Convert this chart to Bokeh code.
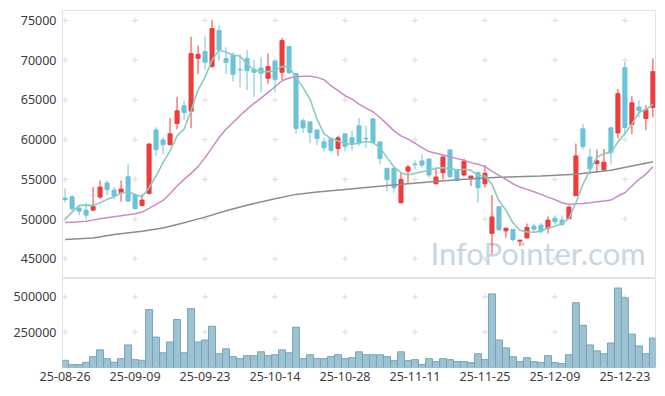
from bokeh.plotting import figure
from bokeh.layouts import column
from bokeh.models import Range1d, FixedTicker, Label
from bokeh.embed import file_html
from bokeh.resources import INLINE

# ---------------- data ----------------
tick_idx = [0, 10, 20, 30, 40, 50, 60, 70, 80]
tick_labels = ["25-08-26", "25-09-09", "25-09-23", "25-10-14", "25-10-28",
               "25-11-11", "25-11-25", "25-12-09", "25-12-23"]

open_ = [52650, 52800, 51400, 51130, 51130, 52770, 54540, 53650, 53320, 55340,
         53020, 51720, 53230, 61230, 59970, 59380, 62030, 64270, 63590, 70240,
         71080, 69230, 73740, 70200, 70620, 68850, 70200, 68850, 69020, 67720,
         69860, 68480, 71720, 68310, 62370, 62240, 61230, 59720, 60180, 58880,
         60730, 60230, 61740, 60180, 62620, 59720, 56390, 56390, 52060, 56050,
         56940, 57320, 57570, 54450, 55840, 58710, 56220, 55550, 55090, 55880,
         54450, 48200, 51560, 48520, 48690, 47220, 47640, 49110, 49230, 48860,
         50080, 49870, 50040, 52940, 61360, 57820, 56990, 56190, 61490, 60850,
         69060, 61910, 64100, 62670, 64060]
high = [53850, 53000, 51600, 52050, 54030, 54870, 54870, 54030, 54870, 56900,
        53150, 53110, 59460, 61570, 60310, 62750, 65400, 64900, 72940, 71840,
        73020, 75080, 74370, 71630, 71000, 70790, 71300, 70030, 70370, 70870,
        70030, 72810, 71720, 68310, 62660, 62240, 61230, 60270, 60180, 60480,
        60730, 61110, 62710, 61740, 62620, 59720, 56390, 56390, 55840, 56810,
        57400, 58160, 57570, 56480, 57950, 58710, 56220, 57610, 55420, 55880,
        56810, 53030, 51600, 48860, 48690, 47390, 49440, 49440, 49490, 50330,
        50460, 50460, 51720, 59510, 61950, 58920, 58750, 58830, 61490, 66370,
        69740, 65490, 64980, 64350, 70240]
low = [52050, 51000, 50500, 49950, 51000, 52560, 53020, 52480, 52180, 52140,
       51220, 51590, 53110, 57910, 58160, 59250, 61320, 62450, 61440, 68260,
       68770, 69020, 69950, 68260, 67340, 66580, 66240, 65400, 65990, 67040,
       65950, 67510, 68260, 60770, 60850, 59550, 59300, 58500, 58370, 57950,
       58540, 58670, 59210, 59000, 59500, 56900, 53530, 53320, 51970, 54450,
       56270, 56480, 55210, 54370, 55000, 55210, 54790, 55340, 54160, 52060,
       53950, 45570, 48500, 47640, 47130, 46580, 47510, 48390, 48180, 48180,
       49280, 49150, 50040, 52940, 58790, 55630, 55810, 56050, 56900, 60180,
       60480, 60690, 62790, 61190, 62790]
close = [52450, 51300, 51000, 50500, 51600, 54030, 53700, 52900, 53780, 52270,
         51300, 52390, 59460, 58750, 59380, 60730, 63630, 63420, 70830, 70750,
         69740, 73990, 71300, 69740, 68220, 68770, 68690, 68480, 68350, 69190,
         67590, 72470, 68430, 61400, 61490, 60900, 60140, 59000, 58670, 60230,
         59170, 59420, 59630, 60100, 59630, 57610, 54960, 53950, 55000, 56560,
         56850, 56810, 55550, 55300, 57820, 55340, 54880, 57270, 55420, 53950,
         55760, 50270, 48650, 48860, 47430, 47350, 48940, 48730, 48480, 49870,
         49660, 49320, 51510, 57950, 59130, 56350, 57330, 57160, 58370, 65780,
         61530, 64640, 63670, 63760, 68560]
volume = [51000, 20800, 20800, 37000, 76400, 125000, 62500, 37000, 62500, 159700,
          55600, 51000, 409800, 215300, 104200, 180600, 340300, 104200, 416700, 180600,
          194500, 291700, 97200, 132000, 76400, 62500, 83300, 83300, 111100, 83300,
          90300, 125000, 104200, 284700, 62500, 90300, 62500, 62500, 77000, 90300,
          62500, 69500, 111100, 90300, 90300, 90300, 76400, 48600, 111100, 48600,
          55600, 20800, 62500, 41700, 62500, 55600, 41700, 41700, 34700, 97200,
          55600, 520900, 194500, 138900, 76400, 41700, 69500, 41700, 34700, 83300,
          34700, 27800, 90300, 458400, 298600, 159700, 118100, 97200, 173600, 562500,
          493100, 236100, 152800, 97200, 208400]
ma_short = [49990, 50880, 51720, 51760, 51720, 52050, 52480, 52810, 53280, 53400,
            53110, 52810, 53950, 55420, 57110, 58580, 60480, 61320, 63630, 66240,
            67900, 70000, 71300, 71000, 70660, 70500, 69530, 68770, 68560, 68560,
            68690, 69230, 69190, 67840, 66580, 65110, 62580, 60770, 60140, 59840,
            59500, 59420, 59550, 59760, 59630, 59000, 57740, 56560, 55840, 55550,
            55760, 55970, 56140, 56390, 56480, 56350, 56180, 56270, 56140, 55510,
            55420, 54370, 52300, 51100, 49530, 48600, 48390, 48350, 48480, 48900,
            49110, 49450, 50080, 52060, 54370, 56180, 57740, 58290, 58370, 59720,
            60770, 61950, 63420, 63760, 64480]
ma_mid = [49560, 49610, 49660, 49740, 49870, 50040, 50160, 50290, 50420, 50540,
          50670, 50880, 51340, 51850, 52350, 53190, 54160, 55000, 55760, 56600,
          57740, 59000, 60270, 61320, 62160, 63000, 63840, 64560, 65230, 65950,
          66660, 67420, 67760, 67930, 67970, 67970, 67840, 67550, 66790, 66160,
          65530, 65100, 64480, 63970, 63510, 62790, 61950, 61110, 60480, 60060,
          59550, 59000, 58500, 58290, 58080, 57870, 57610, 57400, 57110, 56900,
          56600, 56050, 55510, 55000, 54450, 54030, 53740, 53450, 53110, 52770,
          52440, 52060, 51850, 51930, 51970, 52060, 52180, 52270, 52390, 52900,
          53320, 54160, 55000, 55630, 56600]
ma_long_idx = [0, 4, 7, 11, 14, 17, 20, 23, 26, 30, 33, 36, 40, 46, 52, 57, 62, 68, 73, 78, 84]
ma_long = [47420, 47630, 48050, 48470, 48890, 49530, 50250, 51050, 51750, 52560,
           53110, 53400, 53740, 54240, 54660, 55000, 55270, 55420, 55630, 56140, 57230]

price_ticks = [45000, 50000, 55000, 60000, 65000, 70000, 75000]
vol_ticks = [250000, 500000]

# ---------------- styling ----------------
RED = "#ee3b3b"
BLUE = "#6bc2d9"
FONT = "Noto Sans"
LBL = "12.5px"
LBL_COLOR = "#3c3c3c"
OUTLINE = "#e3e3e3"
CROSS = "#dcdcdc"

n = len(close)
idx = list(range(n))
up = [c >= o for o, c in zip(open_, close)]
colors = [RED if u else BLUE for u in up]
body_top = [max(o, c) for o, c in zip(open_, close)]
body_bot = [min(o, c) for o, c in zip(open_, close)]

xr = Range1d(-0.37, 84.37)


def style_yaxis(ax, ticks):
    ax.ticker = FixedTicker(ticks=ticks)
    ax.axis_line_color = None
    ax.major_tick_line_color = None
    ax.minor_tick_line_color = None
    ax.major_tick_out = 0
    ax.major_tick_in = 0
    ax.minor_tick_out = 0
    ax.major_label_standoff = 6
    ax.major_label_text_font = FONT
    ax.major_label_text_font_size = LBL
    ax.major_label_text_color = LBL_COLOR


# ---------------- price panel ----------------
p = figure(width=665, height=278, x_range=xr, y_range=Range1d(42520, 76260),
           output_backend="svg", toolbar_location=None, x_axis_location=None,
           min_border_left=62, min_border_right=10, min_border_top=10, min_border_bottom=0)
p.xgrid.visible = False
p.ygrid.visible = False
p.outline_line_color = OUTLINE
p.background_fill_color = "white"
p.border_fill_color = "white"
style_yaxis(p.yaxis[0], price_ticks)

# grid crosses
cx = [x for x in tick_idx for _ in price_ticks]
cy = [y for _ in tick_idx for y in price_ticks]
p.scatter(x=cx, y=cy, marker="cross", size=6, line_color=CROSS, line_width=1)

# watermark
wm = Label(x=368, y=26, x_units="screen", y_units="screen", text="InfoPointer.com",
           text_font="Lato", text_font_size="31px", text_color="#c6d7e3",
           text_baseline="alphabetic", text_align="left", level="underlay")
p.add_layout(wm)

# candles
p.segment(x0=idx, y0=low, x1=idx, y1=high, line_color=colors, line_width=1)
p.vbar(x=idx, width=0.58, top=body_top, bottom=body_bot,
       fill_color=colors, line_color=colors, line_width=1)

# moving averages
p.line(ma_long_idx, ma_long, line_color="#8c8c8c", line_width=1.5)
p.line(idx, ma_mid, line_color="#c98bc8", line_width=1.5)
p.line(idx, ma_short, line_color="#88ccc0", line_width=1.6)

# ---------------- volume panel ----------------
v = figure(width=665, height=111, x_range=xr, y_range=Range1d(0, 630000),
           output_backend="svg", toolbar_location=None,
           min_border_left=62, min_border_right=10, min_border_top=0, min_border_bottom=22)
v.xgrid.visible = False
v.ygrid.visible = False
v.outline_line_color = OUTLINE
v.background_fill_color = "white"
v.border_fill_color = "white"
style_yaxis(v.yaxis[0], vol_ticks)
v.yaxis[0].formatter.use_scientific = False

vx = v.xaxis[0]
vx.ticker = FixedTicker(ticks=tick_idx)
vx.major_label_overrides = {t: s for t, s in zip(tick_idx, tick_labels)}
vx.axis_line_color = None
vx.major_tick_line_color = None
vx.minor_tick_line_color = None
vx.major_tick_out = 0
vx.major_tick_in = 0
vx.minor_tick_out = 0
vx.major_label_standoff = 4
vx.major_label_text_font = FONT
vx.major_label_text_font_size = LBL
vx.major_label_text_color = LBL_COLOR

vcx = [x for x in tick_idx for _ in vol_ticks]
vcy = [y for _ in tick_idx for y in vol_ticks]
v.scatter(x=vcx, y=vcy, marker="cross", size=6, line_color=CROSS, line_width=1)

v.vbar(x=idx, width=1.0, top=volume, bottom=0,
       fill_color="#98c0d1", fill_alpha=0.95, line_color="#76a4bb", line_width=1)

layout = column(p, v, spacing=0)
open("out.html", "w").write(file_html(layout, INLINE))
